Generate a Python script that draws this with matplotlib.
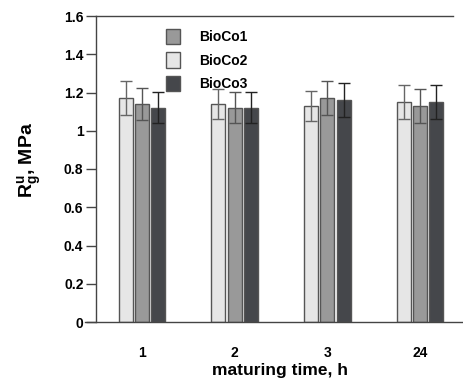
import matplotlib
matplotlib.use("Agg")
import numpy as np
import matplotlib.pyplot as plt
from matplotlib.ticker import FuncFormatter

# ---------- Date ----------
groups = ["1", "2", "3", "24"]
series = ["BioCo2", "BioCo1", "BioCo3"]          # ordinea barelor în grup
bioco2 = [1.17, 1.14, 1.13, 1.15]
bioco1 = [1.14, 1.12, 1.17, 1.13]
bioco3 = [1.12, 1.12, 1.16, 1.15]
err2 = [0.09, 0.08, 0.08, 0.09]
err1 = [0.085, 0.08, 0.09, 0.09]
err3 = [0.08, 0.08, 0.09, 0.09]
legend_order = ["BioCo1", "BioCo2", "BioCo3"]
y_ticks = [0, 0.2, 0.4, 0.6, 0.8, 1.0, 1.2, 1.4, 1.6]

# ---------- Stil ----------
COLORS = {"BioCo2": "#e6e6e6", "BioCo1": "#999999", "BioCo3": "#45474b"}
ECOLORS = {"BioCo2": "#666666", "BioCo1": "#555555", "BioCo3": "#222222"}
EDGE = "#555555"
AX_COLOR = "#444444"
BAR_W = 0.151
STEP = 0.176
PX = 92.7                     # pixeli pe unitate de grup
X_LEFT = -(142 - 85) / PX     # linia de jos începe la x=85 px
X_SPINE = -(142 - 96) / PX    # axa Y la x=96 px
X_RIGHT = (463 - 142) / PX
X_TOP_END = (453 - 142) / PX
AX_W = 463 - 85
AX_H = 322 - 16

plt.rcParams["font.family"] = ["Liberation Sans", "DejaVu Sans"]
plt.rcParams["font.weight"] = "bold"
plt.rcParams["mathtext.fontset"] = "custom"
plt.rcParams["mathtext.rm"] = "Liberation Sans:bold"
plt.rcParams["mathtext.it"] = "Liberation Sans:bold"

fig = plt.figure(figsize=(4.63, 3.84), dpi=100)
ax = fig.add_axes([85 / 463, 1 - 322 / 384, AX_W / 463, AX_H / 384])

x = np.arange(len(groups))
vals = {"BioCo2": bioco2, "BioCo1": bioco1, "BioCo3": bioco3}
errs = {"BioCo2": err2, "BioCo1": err1, "BioCo3": err3}
handles = {}
for i, name in enumerate(series):
    pos = x + (i - 1) * STEP
    b = ax.bar(pos, vals[name], BAR_W, color=COLORS[name], edgecolor=EDGE,
               linewidth=1.0, label=name, zorder=2)
    ax.errorbar(pos, vals[name], yerr=errs[name], fmt="none",
                ecolor=ECOLORS[name], elinewidth=1.0, capsize=4, capthick=1.0, zorder=3)
    handles[name] = b

ax.set_xlim(X_LEFT, X_RIGHT)
ax.set_ylim(0, 1.6)
ax.set_xticks(x)
ax.set_xticklabels(groups, fontsize=10, fontweight="bold")
ax.set_yticks(y_ticks)
ax.yaxis.set_major_formatter(FuncFormatter(lambda v, p: f"{v:g}"))
ax.tick_params(axis="y", length=7, width=1, color=AX_COLOR, labelsize=10, pad=2)
ax.tick_params(axis="x", length=0, pad=17)
for lab in ax.get_yticklabels():
    lab.set_fontweight("bold")

ax.spines["right"].set_visible(False)
ax.spines["left"].set_position(("data", X_SPINE))
ax.spines["top"].set_bounds(X_SPINE, X_TOP_END)
for s in ["left", "top", "bottom"]:
    ax.spines[s].set_color(AX_COLOR)
    ax.spines[s].set_linewidth(1.0)

ax.set_xlabel("maturing time, h", fontsize=12.5, fontweight="bold")
ax.xaxis.set_label_coords((280 - 85) / AX_W, -(371 - 322) / AX_H, transform=ax.transAxes)
ax.set_ylabel(r"$\mathrm{R_g^u}$, MPa", fontsize=14, fontweight="bold")
ax.yaxis.set_label_coords(-(85 - 30) / AX_W, (322 - 160) / AX_H, transform=ax.transAxes)
ax.yaxis.label.set_va("center")
ax.xaxis.label.set_va("center")

ax.legend([handles[n] for n in legend_order], legend_order, loc="upper left",
          bbox_to_anchor=((159 - 85) / AX_W, (322 - 22) / AX_H), frameon=False,
          fontsize=10, handlelength=1.0, handleheight=1.3, handletextpad=1.4,
          labelspacing=0.6, borderpad=0)

fig.savefig("out.png", dpi=100)
